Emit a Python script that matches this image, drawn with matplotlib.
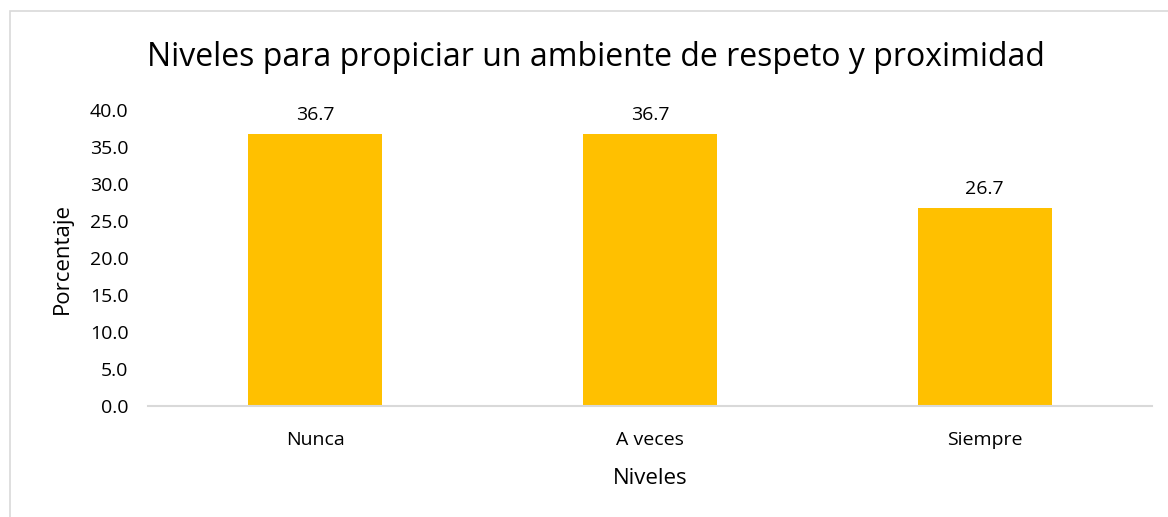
import matplotlib
matplotlib.use("Agg")
import matplotlib.pyplot as plt
from matplotlib.patches import Rectangle

categories = ["Nunca", "A veces", "Siempre"]
values = [36.7, 36.7, 26.7]
yticks = [0, 5, 10, 15, 20, 25, 30, 35, 40]

plt.rcParams['font.family'] = ['Open Sans', 'DejaVu Sans']

W, H = 1168, 517
fig = plt.figure(figsize=(W/100, H/100), dpi=100)
ax = fig.add_axes([148/W, 1-406/H, (1152-148)/W, (406-110)/H])

x = range(len(categories))
ax.bar(x, values, width=0.40, color="#FFC000")
for xi, v in zip(x, values):
    ax.text(xi, v + 1.4, f"{v:.1f}", ha="center", va="bottom", fontsize=14, color="#000000")

ax.set_xlim(-0.5, 2.5)
ax.set_ylim(0, 40)
ax.set_yticks(yticks)
ax.set_yticklabels([f"{t:.1f}" for t in yticks], fontsize=14)
ax.set_xticks(list(x))
ax.set_xticklabels(categories, fontsize=14)
ax.tick_params(axis="y", length=0, pad=14)
ax.tick_params(axis="x", length=0, pad=18)
for s in ["top", "right", "left"]:
    ax.spines[s].set_visible(False)
ax.spines["bottom"].set_color("#D9D9D9")
ax.spines["bottom"].set_linewidth(1.5)

ax.set_xlabel("Niveles", fontsize=16, labelpad=14)
ax.set_ylabel("Porcentaje", fontsize=16, labelpad=12)

fig.text(596/W, 1-57/H, "Niveles para propiciar un ambiente de respeto y proximidad",
         ha="center", va="center", fontsize=23)

fig.patches.append(Rectangle((10/W, -0.1), 1.2, 1 - 11/H + 0.1, transform=fig.transFigure,
                             fill=False, edgecolor="#D9D9D9", linewidth=1.2))

fig.savefig("out.png", dpi=100)
